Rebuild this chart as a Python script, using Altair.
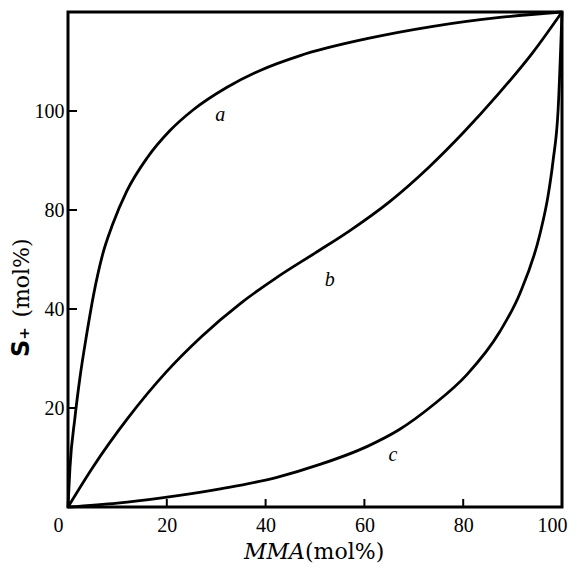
import altair as alt
import pandas as pd

# ---- data ----
mma_a = [0, 0.4, 1.4, 2.4, 3.8, 5.2, 7.0, 9.0, 11.9, 16.0, 20.6, 25.3, 32.2, 38.9, 47.0, 60.5, 73.9, 87.4, 100]
s_a = [0, 8, 18, 26, 35, 43, 51, 57, 63.8, 70.5, 76, 80.2, 84.8, 88.2, 91.2, 94.6, 97.1, 98.9, 100]

mma_b = [0, 5, 12, 20, 27, 35, 42, 50, 57, 65, 73, 80, 87, 94, 100]
s_b = [0, 8, 17.8, 27.4, 34.4, 41.2, 46.2, 51.3, 55.8, 61.6, 68.6, 75.6, 83.3, 91.7, 100]

mma_c = [0, 10, 18.6, 25, 32.2, 42.3, 51, 60.5, 67, 73.9, 80.8, 87.4, 91.5, 95.5, 97.2, 98.2, 99.2, 100]
s_c = [0, 0.8, 1.8, 2.7, 3.9, 6.0, 8.6, 12.2, 15.6, 20.6, 26.8, 35.4, 43.2, 55, 63, 70, 80, 100]

curve_names = ["a", "b", "c"]
label_x = [30.8, 53.0, 65.8]
label_y = [79.2, 45.9, 10.5]

x_ticks = [0, 20, 40, 60, 80, 100]
y_ticks = [20, 40, 60, 80]
y_tick_labels = ["20", "40", "80", "100"]

# ---- tables ----
rows = []
for name, xs_, ys_ in zip(curve_names, [mma_a, mma_b, mma_c], [s_a, s_b, s_c]):
    for i, (xv, yv) in enumerate(zip(xs_, ys_)):
        rows.append({"curve": name, "mma": xv, "s": yv, "order": i})
df = pd.DataFrame(rows)
df_lab = pd.DataFrame({"mma": label_x, "s": label_y, "t": curve_names})
df_xt = pd.DataFrame({"mma": x_ticks[1:-1]})
df_yt = pd.DataFrame({"s": y_ticks})

W, H = 494, 495
xs = alt.Scale(domain=[0, 100], nice=False, zero=False)
ys = alt.Scale(domain=[0, 100], nice=False, zero=False)

label_expr = " : ".join(
    [f"datum.value == {v} ? '{l}'" for v, l in zip(y_ticks, y_tick_labels)]
) + " : ''"

ax_x = alt.Axis(
    values=x_ticks, title=None, ticks=False, domain=False, grid=False,
    labelFlush=False, labelPadding=8, labelFontSize=20, labelFont="Liberation Serif",
    labelColor="black",
    labelAlign={"condition": {"test": "datum.value == 0", "value": "right"}, "value": "center"},
    labelOffset={"condition": [{"test": "datum.value == 0", "value": -5},
                               {"test": "datum.value == 100", "value": -10}], "value": 0},
)
ax_y = alt.Axis(
    values=y_ticks, labelExpr=label_expr, title=None, ticks=False, domain=False, grid=False,
    labelPadding=4, labelFontSize=20, labelFont="Liberation Serif", labelColor="black",
)

X = lambda: alt.X("mma:Q", scale=xs, axis=ax_x)
Y = lambda: alt.Y("s:Q", scale=ys, axis=ax_y)

lines = alt.Chart(df).mark_line(color="black", strokeWidth=2.8, interpolate="monotone").encode(
    x=X(), y=Y(), detail="curve:N", order="order:Q",
)

labels = alt.Chart(df_lab).mark_text(
    font="Liberation Serif", fontStyle="italic", fontSize=20, color="black"
).encode(x=X(), y=Y(), text="t:N")

xticks = alt.Chart(df_xt).mark_rule(color="black", strokeWidth=2).encode(
    x=X(), y=alt.value(H), y2=alt.value(H - 8),
)
yticks = alt.Chart(df_yt).mark_rule(color="black", strokeWidth=2).encode(
    y=Y(), x=alt.value(0), x2=alt.value(9),
)

one = pd.DataFrame({"k": [0]})
xt1 = alt.Chart(one).mark_text(text="MMA", font="DejaVu Serif", fontStyle="italic",
                               fontSize=22, align="right", baseline="middle", color="black").encode(
    x=alt.value(237), y=alt.value(540))
xt2 = alt.Chart(one).mark_text(text="(mol%)", font="DejaVu Serif",
                               fontSize=22, align="left", baseline="middle", color="black").encode(
    x=alt.value(237), y=alt.value(540))
yt1 = alt.Chart(one).mark_text(text="S₊", font="DejaVu Sans", fontWeight="bold",
                               fontSize=24, align="center", baseline="middle", angle=270, color="black").encode(
    x=alt.value(-46), y=alt.value(330))
yt2 = alt.Chart(one).mark_text(text="(mol%)", font="DejaVu Serif",
                               fontSize=22, align="center", baseline="middle", angle=270, color="black").encode(
    x=alt.value(-46), y=alt.value(266))

chart = alt.layer(lines, labels, xticks, yticks, xt1, xt2, yt1, yt2).properties(
    width=W, height=H,
    padding={"left": 60, "top": 4, "right": 7, "bottom": 56},
    autosize=alt.AutoSizeParams(type="none"),
    background="white",
).configure_view(stroke="black", strokeWidth=3)

chart.save("out.html", embed_options={"renderer": "svg", "actions": False})
